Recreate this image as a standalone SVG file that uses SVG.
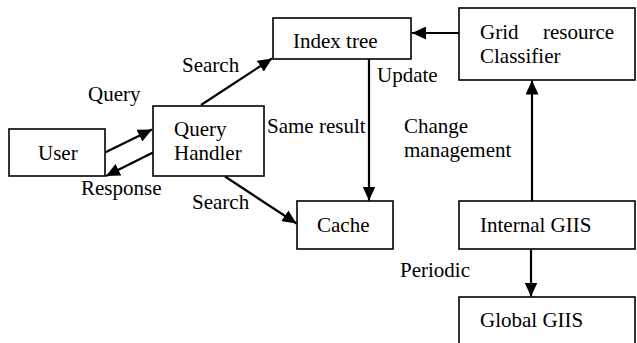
<svg xmlns="http://www.w3.org/2000/svg" width="637" height="343" viewBox="0 0 637 343">
  <style>
    .box { fill: #fff; stroke: #000; stroke-width: 1.6; }
    .lbl { font-family: "Liberation Serif", "Times New Roman", serif; font-size: 21px; fill: #000; }
    .edge { stroke: #000; stroke-width: 2.2; fill: none; marker-end: url(#head); }
  </style>
  <defs>
    <marker id="head" markerUnits="userSpaceOnUse" markerWidth="15" markerHeight="13" refX="14" refY="6.5" orient="auto">
      <path d="M0,0 L14,6.5 L0,13 Z" fill="#000"/>
    </marker>
  </defs>
  <rect width="637" height="343" fill="#fff"/>

  <g id="connectors">
    <line class="edge" x1="105" y1="152.5" x2="152" y2="129.5"/>
    <line class="edge" x1="153" y1="152.5" x2="106" y2="176"/>
    <line class="edge" x1="201" y1="105" x2="272" y2="58.5"/>
    <line class="edge" x1="459" y1="33" x2="412" y2="33"/>
    <line class="edge" x1="369" y1="56" x2="369" y2="200.5"/>
    <line class="edge" x1="532" y1="201" x2="532" y2="80.5"/>
    <line class="edge" x1="531" y1="249" x2="531" y2="296.5"/>
    <line class="edge" x1="225" y1="176.5" x2="296.5" y2="223.5"/>
  </g>

  <g id="edge-labels">
    <text class="lbl" x="88" y="101">Query</text>
    <text class="lbl" x="182" y="72">Search</text>
    <text class="lbl" x="81" y="195">Response</text>
    <text class="lbl" x="192" y="209">Search</text>
    <text class="lbl" x="267" y="133">Same result</text>
    <text class="lbl" x="377" y="82">Update</text>
    <text class="lbl" x="404" y="133">Change</text>
    <text class="lbl" x="404" y="157">management</text>
    <text class="lbl" x="400" y="277">Periodic</text>
  </g>

  <g id="user">
    <rect class="box" x="9" y="129" width="96" height="47"/>
    <text class="lbl" x="38" y="160">User</text>
  </g>

  <g id="query-handler">
    <rect class="box" x="153" y="106" width="111" height="70"/>
    <text class="lbl" x="174" y="136">Query</text>
    <text class="lbl" x="174" y="160">Handler</text>
  </g>

  <g id="index-tree">
    <rect class="box" x="273" y="18" width="138" height="41"/>
    <text class="lbl" x="293" y="48">Index tree</text>
  </g>

  <g id="classifier">
    <rect class="box" x="459" y="8" width="176" height="72"/>
    <text class="lbl" x="480" y="39">Grid</text>
    <text class="lbl" x="543" y="39">resource</text>
    <text class="lbl" x="480" y="63">Classifier</text>
  </g>

  <g id="cache">
    <rect class="box" x="297" y="201" width="96" height="48"/>
    <text class="lbl" x="317" y="232">Cache</text>
  </g>

  <g id="internal-giis">
    <rect class="box" x="459" y="201" width="176" height="48"/>
    <text class="lbl" x="480" y="232">Internal GIIS</text>
  </g>

  <g id="global-giis">
    <rect class="box" x="459" y="297" width="176" height="60"/>
    <text class="lbl" x="480" y="327">Global GIIS</text>
  </g>
</svg>
